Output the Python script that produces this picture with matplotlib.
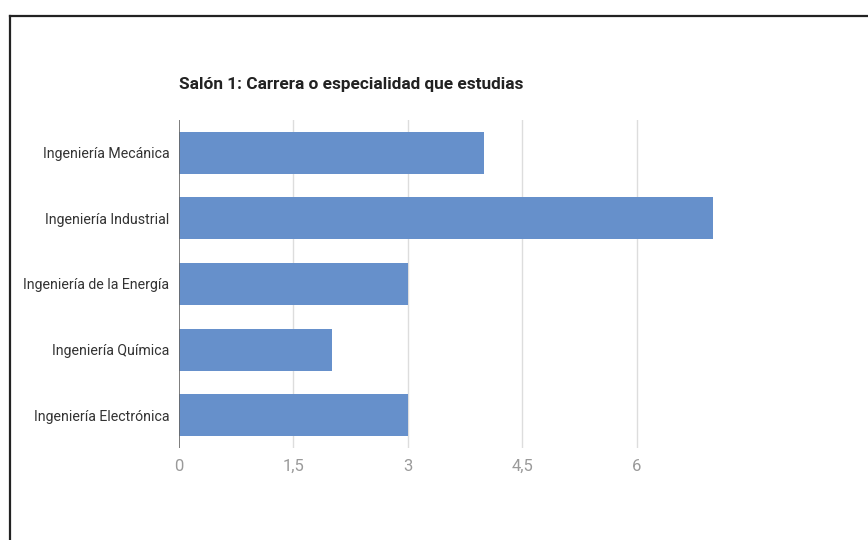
import matplotlib
matplotlib.use("Agg")
import matplotlib.pyplot as plt
from matplotlib.lines import Line2D

categories = ["Ingeniería Mecánica", "Ingeniería Industrial", "Ingeniería de la Energía",
              "Ingeniería Química", "Ingeniería Electrónica"]
values = [4, 7, 3, 2, 3]
xticks = [0, 1.5, 3, 4.5, 6]
xtick_labels = ["0", "1,5", "3", "4,5", "6"]
title = "Salón 1: Carrera o especialidad que estudias"

plt.rcParams['font.family'] = ['Roboto', 'DejaVu Sans']

fig = plt.figure(figsize=(8.68, 5.4), dpi=100)
ax = fig.add_axes([179/868, 1-448/540, (713-179)/868, (448-120)/540])

ypos = list(range(len(categories)))
ax.barh(ypos, values, height=0.64, color="#6690cb", zorder=3)
ax.set_ylim(len(categories)-0.5, -0.5)
ax.set_xlim(0, 7)
ax.set_yticks(ypos)
ax.set_yticklabels(categories, fontsize=10.2, color="#333333")
ax.set_xticks(xticks)
ax.set_xticklabels(xtick_labels, fontsize=12, color="#9a9a9a")
ax.tick_params(axis='both', length=0)
ax.tick_params(axis='y', pad=7)
ax.tick_params(axis='x', pad=8)
for t in xticks[1:]:
    ax.axvline(t, color="#dddddd", lw=1, zorder=1)
ax.axvline(0, color="#666666", lw=1.2, zorder=4)
for s in ax.spines.values():
    s.set_visible(False)

fig.text(179/868, 1-84/540, title, fontsize=12.4, fontweight='bold', color="#222222",
         ha='left', va='center')

# outer frame (top and left edges visible)
fig.add_artist(Line2D([10/868, 1], [1-16/540, 1-16/540], transform=fig.transFigure,
                      color="#222222", lw=1.6))
fig.add_artist(Line2D([10/868, 10/868], [0, 1-16/540], transform=fig.transFigure,
                      color="#222222", lw=1.6))

fig.savefig("out.png", dpi=100)
